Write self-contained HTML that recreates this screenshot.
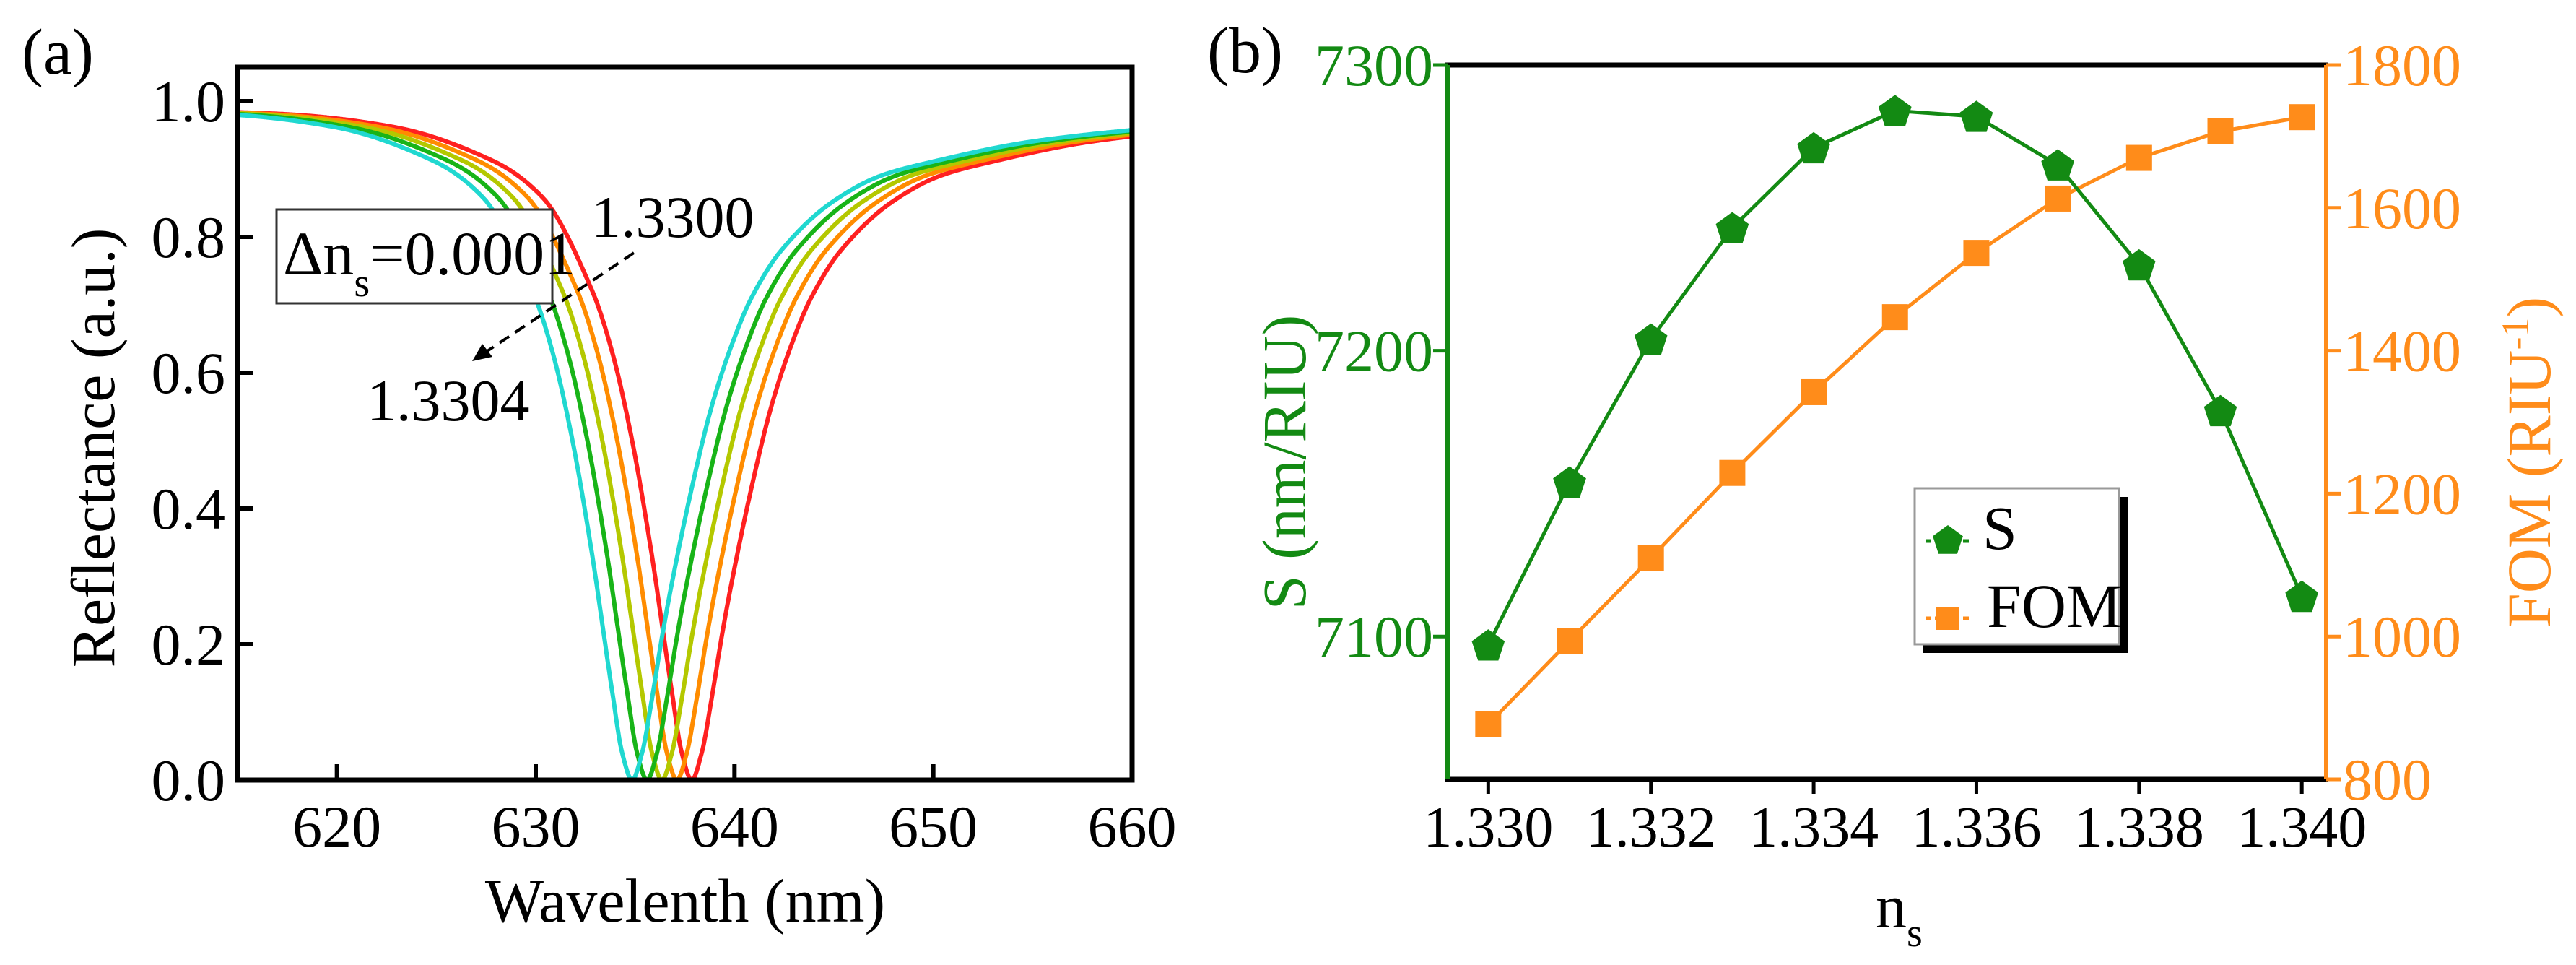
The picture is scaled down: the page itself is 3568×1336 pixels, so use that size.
<!DOCTYPE html>
<html><head><meta charset="utf-8">
<style>
html,body{margin:0;padding:0;background:#fff;}
svg, svg text{font-family:"Liberation Serif","DejaVu Serif",serif;}
</style></head>
<body>
<svg id="fig" width="3568" height="1331" viewBox="0 0 3568 1331" xmlns="http://www.w3.org/2000/svg" font-family="Liberation Serif, DejaVu Serif, serif">
<rect x="0" y="0" width="3568" height="1331" fill="#fff"/>
<g id="pa" font-family="Liberation Serif, serif"></g>
<g id="pb" font-family="Liberation Serif, serif"></g>
</svg>
<script>
// ---- Panel (a) data ----
const resonances = [637.85, 637.1, 636.35, 635.6, 634.85]; // red, orange, yellow-green, green, cyan
const curveLabels = ["1.3300","1.3301","1.3302","1.3303","1.3304"];
const profileDetune = [-24,-20,-15,-10,-7.5,-5,-4,-3,-2,-1.5,-1,-0.5,0,0.5,1,1.5,2,3,4,5,6,7.5,10,12.5,15,20,25,27];
const profileR = [0.985,0.980,0.962,0.912,0.858,0.72,0.63,0.50,0.33,0.23,0.13,0.04,0,0.04,0.12,0.21,0.29,0.43,0.55,0.64,0.71,0.78,0.85,0.89,0.91,0.94,0.957,0.962];
const xTicksA = [620,630,640,650,660];
const yTicksA = [0.0,0.2,0.4,0.6,0.8,1.0];
// ---- Panel (b) data ----
const ns = [1.330,1.331,1.332,1.333,1.334,1.335,1.336,1.337,1.338,1.339,1.340];
const sens = [7097,7154,7204,7243,7271,7284,7282,7265,7230,7179,7114];
const fom = [877,994,1110,1229,1342,1447,1537,1613,1670,1707,1727];
const xTicksB = [1.330,1.332,1.334,1.336,1.338,1.340];
const yTicksS = [7100,7200,7300];
const yTicksF = [800,1000,1200,1400,1600,1800];

const NS="http://www.w3.org/2000/svg";
function mk(parent,tag,attrs,text){const e=document.createElementNS(NS,tag);for(const k in attrs)e.setAttribute(k,attrs[k]);if(tag==='text')e.setAttribute('font-family','Liberation Serif, serif');if(text!==undefined)e.textContent=text;parent.appendChild(e);return e;}

// ===== Panel a =====
const pa=document.getElementById('pa');
const A={l:329,r:1568,t:93,b:1080,x0:615,x1:660,y0:0,y1:1.05};
const xa=v=>A.l+(v-A.x0)/(A.x1-A.x0)*(A.r-A.l);
const ya=v=>A.b-(v-A.y0)/(A.y1-A.y0)*(A.b-A.t);
const colors=["#ff2020","#ff8c00","#b4c800","#18b418","#20d8d0"];
// monotone cubic (Fritsch-Carlson) interpolation over the profile table
const nP=profileDetune.length, slopes=[], tang=[];
for(let i=0;i<nP-1;i++)slopes.push((profileR[i+1]-profileR[i])/(profileDetune[i+1]-profileDetune[i]));
tang.push(slopes[0]);
for(let i=1;i<nP-1;i++){const a=slopes[i-1],b=slopes[i];tang.push(a*b<=0?0:2/(1/a+1/b));}
tang.push(slopes[nP-2]);
function interp(d){
  if(d<=profileDetune[0])return profileR[0];
  if(d>=profileDetune[nP-1])return profileR[nP-1];
  let i=1;while(d>profileDetune[i])i++;
  const x0=profileDetune[i-1],x1=profileDetune[i],h=x1-x0,t=(d-x0)/h;
  const h00=2*t*t*t-3*t*t+1,h10=t*t*t-2*t*t+t,h01=-2*t*t*t+3*t*t,h11=t*t*t-t*t;
  return h00*profileR[i-1]+h10*h*tang[i-1]+h01*profileR[i]+h11*h*tang[i];
}
const cg=mk(pa,'g',{});


for(let c=0;c<resonances.length;c++){
  let d='';
  for(let w=615;w<=660.001;w+=0.05){
    const r=interp(w-resonances[c]);
    d+=(d?'L':'M')+xa(w).toFixed(1)+','+ya(r).toFixed(1);
  }
  const p=mk(cg,'path',{d:d,fill:'none',stroke:colors[c],'stroke-width':6,'stroke-linejoin':'round'});
  
  
}
const fa=mk(pa,'rect',{x:A.l,y:A.t,width:A.r-A.l,height:A.b-A.t,fill:'none',stroke:'#000','stroke-width':7});


xTicksA.forEach(v=>{
  mk(pa,'line',{x1:xa(v),x2:xa(v),y1:A.b,y2:A.b-22,stroke:'#000','stroke-width':6});
  const t=mk(pa,'text',{x:xa(v),y:1172,'font-size':82,'text-anchor':'middle'},String(v));
  
  
});
yTicksA.forEach(v=>{
  mk(pa,'line',{x1:A.l,x2:A.l+22,y1:ya(v),y2:ya(v),stroke:'#000','stroke-width':6});
  const t=mk(pa,'text',{x:312,y:ya(v)+28,'font-size':82,'text-anchor':'end'},v.toFixed(1));
  
  
});

let t=mk(pa,'text',{x:30,y:102,'font-size':90},'(a)');


t=mk(pa,'text',{x:949,y:1276,'font-size':86,'text-anchor':'middle'},'Wavelenth (nm)');


t=mk(pa,'text',{x:0,y:0,'font-size':86,'text-anchor':'middle',transform:'translate(158,620) rotate(-90)'},'Reflectance (a.u.)');


const bx=mk(pa,'rect',{x:383,y:290,width:382,height:130,fill:'#fff',stroke:'#333','stroke-width':3});


t=mk(pa,'text',{x:392,y:380,'font-size':86});


t.innerHTML='Δn<tspan font-size="56" dy="30">s</tspan><tspan dy="-30">=0.0001</tspan>';
t=mk(pa,'text',{x:819,y:328,'font-size':82},'1.3300');


t=mk(pa,'text',{x:508,y:582,'font-size':82},'1.3304');


const ar=mk(pa,'line',{x1:878,y1:350,x2:672,y2:488,stroke:'#000','stroke-width':4,'stroke-dasharray':'16,10'});


mk(pa,'polygon',{points:'654,500 668,476 682,494',fill:'#000'});

// ===== Panel b =====
const pb=document.getElementById('pb');
const B={l:2005,r:3222,t:90,b:1079,x0:1.3295,x1:1.3403,s0:7050,s1:7300,f0:800,f1:1800};
const xb=v=>B.l+(v-B.x0)/(B.x1-B.x0)*(B.r-B.l);
const ys=v=>B.b-(v-B.s0)/(B.s1-B.s0)*(B.b-B.t);
const yf=v=>B.b-(v-B.f0)/(B.f1-B.f0)*(B.b-B.t);
const G="#138a13", O="#ff8c1a";
function pent(cx,cy,r){let p=[];for(let i=0;i<5;i++){const a=-Math.PI/2+i*2*Math.PI/5;p.push((cx+r*Math.cos(a)).toFixed(1)+','+(cy+r*Math.sin(a)).toFixed(1));}return p.join(' ');}
let d=ns.map((v,i)=>(i?'L':'M')+xb(v)+','+yf(fom[i])).join('');
let p=mk(pb,'path',{d:d,fill:'none',stroke:O,'stroke-width':5});


ns.forEach((v,i)=>{
  const m=mk(pb,'rect',{x:xb(v)-18,y:yf(fom[i])-18,width:36,height:36,fill:O});
  
  
});
d=ns.map((v,i)=>(i?'L':'M')+xb(v)+','+ys(sens[i])).join('');
p=mk(pb,'path',{d:d,fill:'none',stroke:G,'stroke-width':5});


ns.forEach((v,i)=>{
  const m=mk(pb,'polygon',{points:pent(xb(v),ys(sens[i])+2,24),fill:G});
  
  
});
mk(pb,'line',{x1:B.l-3,x2:B.r+3,y1:B.t,y2:B.t,stroke:'#000','stroke-width':7});
mk(pb,'line',{x1:B.l-3,x2:B.r+3,y1:B.b,y2:B.b,stroke:'#000','stroke-width':7});
let a=mk(pb,'line',{x1:B.l,x2:B.l,y1:B.t,y2:B.b,stroke:G,'stroke-width':6});


a=mk(pb,'line',{x1:B.r,x2:B.r,y1:B.t,y2:B.b,stroke:O,'stroke-width':6});


xTicksB.forEach(v=>{
  mk(pb,'line',{x1:xb(v),x2:xb(v),y1:B.b,y2:B.b+20,stroke:'#000','stroke-width':5});
  const tt=mk(pb,'text',{x:xb(v),y:1172,'font-size':80,'text-anchor':'middle'},v.toFixed(3));
  
  
});
yTicksS.forEach(v=>{
  mk(pb,'line',{x1:B.l-20,x2:B.l,y1:ys(v),y2:ys(v),stroke:G,'stroke-width':5});
  const tt=mk(pb,'text',{x:1985,y:ys(v)+28,'font-size':82,'text-anchor':'end',fill:G},String(v));
  
  
});
yTicksF.forEach(v=>{
  mk(pb,'line',{x1:B.r,x2:B.r+20,y1:yf(v),y2:yf(v),stroke:O,'stroke-width':5});
  const tt=mk(pb,'text',{x:3245,y:yf(v)+28,'font-size':82,fill:O},String(v));
  
  
});
t=mk(pb,'text',{x:1672,y:100,'font-size':90},'(b)');


t=mk(pb,'text',{x:0,y:0,'font-size':86,'text-anchor':'middle',fill:G,transform:'translate(1808,640) rotate(-90)'},'S (nm/RIU)');


t=mk(pb,'text',{x:0,y:0,'font-size':86,'text-anchor':'middle',fill:O,transform:'translate(3532,640) rotate(-90)'});
t.innerHTML='FOM (RIU<tspan font-size="54" dy="-30">-1</tspan><tspan dy="30">)</tspan>';


t=mk(pb,'text',{x:2598,y:1284,'font-size':86});
t.innerHTML='n<tspan font-size="56" dy="26">s</tspan>';


const lg=mk(pb,'g',{});


mk(lg,'rect',{x:2664,y:688,width:283,height:216,fill:'#000'});
mk(lg,'rect',{x:2652,y:676,width:283,height:216,fill:'#fff',stroke:'#999','stroke-width':3});
let e=mk(lg,'g',{});


mk(e,'line',{x1:2667,x2:2728,y1:749,y2:749,stroke:G,'stroke-width':5,'stroke-dasharray':'8,5'});
mk(e,'polygon',{points:pent(2698,749,22),fill:G});
mk(e,'text',{x:2746,y:760,'font-size':86},'S');
e=mk(lg,'g',{});


mk(e,'line',{x1:2667,x2:2728,y1:856,y2:856,stroke:O,'stroke-width':5,'stroke-dasharray':'8,5'});
mk(e,'rect',{x:2682,y:840,width:32,height:32,fill:O});
mk(e,'text',{x:2752,y:868,'font-size':86},'FOM');
</script>
</body></html>
